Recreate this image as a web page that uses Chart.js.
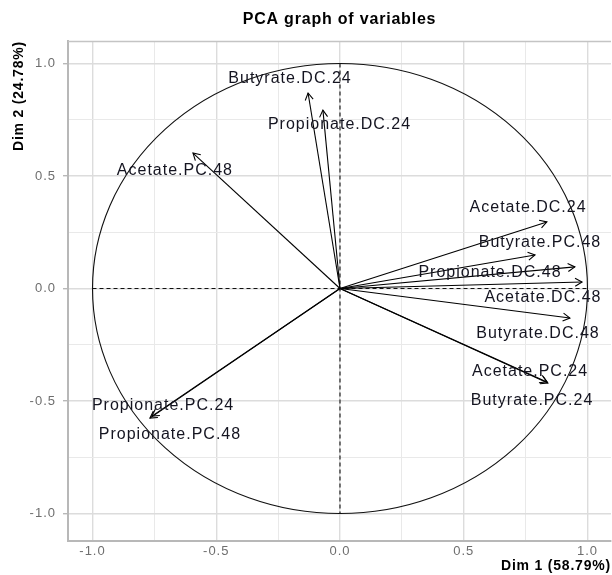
<!DOCTYPE html>
<html>
<head>
<meta charset="utf-8">
<script src="https://cdn.jsdelivr.net/npm/chart.js@4.4.1/dist/chart.umd.min.js"></script>
<style>
  html, body { margin: 0; padding: 0; background: #fff; }
  canvas { display: block; }
</style>
</head>
<body>
<canvas id="pca" width="612" height="575"></canvas>
<script>
// variables (coordonnées sur Dim 1 / Dim 2)
const varNames = [
  'Butyrate.DC.24', 'Propionate.DC.24', 'Acetate.PC.48',
  'Acetate.DC.24', 'Butyrate.PC.48', 'Propionate.DC.48',
  'Acetate.DC.48', 'Butyrate.DC.48', 'Acetate.PC.24',
  'Butyrate.PC.24', 'Propionate.PC.24', 'Propionate.PC.48'
];
const dim1 = [-0.129, -0.069, -0.594, 0.836, 0.788, 0.949, 0.978, 0.929, 0.836, 0.840, -0.768, -0.760];
const dim2 = [0.869, 0.793, 0.602, 0.296, 0.149, 0.096, 0.029, -0.131, -0.415, -0.420, -0.576, -0.567];

// position des étiquettes (décalées comme dans le graphe original)
const labelX = [-0.202, -0.002, -0.667, 0.760, 0.808, 0.606, 0.820, 0.800, 0.768, 0.776, -0.715, -0.687];
const labelY = [0.931, 0.727, 0.522, 0.358, 0.202, 0.073, -0.042, -0.202, -0.367, -0.496, -0.522, -0.651];

// graduations
const gridValues = [-1, -0.75, -0.5, -0.25, 0, 0.25, 0.5, 0.75, 1];

const chartTitle = 'PCA graph of variables';
const xTitle = 'Dim 1 (58.79%)';
const yTitle = 'Dim 2 (24.78%)';

function isMajor(v) {
  return Math.abs(v * 2 - Math.round(v * 2)) < 1e-9;
}

// une flèche = un petit segment origine -> variable
const datasets = varNames.map((name, i) => ({
  label: name,
  data: [{ x: 0, y: 0 }, { x: dim1[i], y: dim2[i] }],
  showLine: true,
  borderColor: '#000',
  borderWidth: 1.1,
  pointRadius: 0,
  fill: false
}));

const pcaDecor = {
  id: 'pcaDecor',
  beforeDraw(chart) {
    chart.ctx.letterSpacing = '1px';
  },
  beforeDatasetsDraw(chart) {
    const { ctx, chartArea, scales: { x, y } } = chart;
    ctx.save();
    // bord du haut
    ctx.strokeStyle = '#c4c4c4';
    ctx.lineWidth = 1.5;
    ctx.beginPath();
    ctx.moveTo(chartArea.left, chartArea.top + 0.5);
    ctx.lineTo(chartArea.right, chartArea.top + 0.5);
    ctx.stroke();

    // cercle des corrélations
    const cx = x.getPixelForValue(0), cy = y.getPixelForValue(0);
    const rx = x.getPixelForValue(1) - cx, ry = cy - y.getPixelForValue(1);
    ctx.strokeStyle = '#111';
    ctx.lineWidth = 1.1;
    ctx.beginPath();
    ctx.ellipse(cx, cy, rx, ry, 0, 0, Math.PI * 2);
    ctx.stroke();

    // axes en pointillés
    ctx.setLineDash([4, 3]);
    ctx.beginPath();
    ctx.moveTo(x.getPixelForValue(-1), cy);
    ctx.lineTo(x.getPixelForValue(1), cy);
    ctx.moveTo(cx, y.getPixelForValue(1));
    ctx.lineTo(cx, y.getPixelForValue(-1));
    ctx.stroke();
    ctx.restore();
  },
  afterDatasetsDraw(chart) {
    const { ctx, chartArea, scales: { x, y } } = chart;
    ctx.save();
    // pointes de flèches
    ctx.strokeStyle = '#000';
    ctx.lineWidth = 1.1;
    chart.data.datasets.forEach((ds, i) => {
      const pts = chart.getDatasetMeta(i).data;
      const x0 = pts[0].x, y0 = pts[0].y, x1 = pts[1].x, y1 = pts[1].y;
      const a = Math.atan2(y1 - y0, x1 - x0);
      const len = 8, spread = Math.PI / 6;
      ctx.beginPath();
      ctx.moveTo(x1 - len * Math.cos(a - spread), y1 - len * Math.sin(a - spread));
      ctx.lineTo(x1, y1);
      ctx.lineTo(x1 - len * Math.cos(a + spread), y1 - len * Math.sin(a + spread));
      ctx.stroke();
    });

    // étiquettes
    ctx.fillStyle = '#141420';
    ctx.font = '16px "Liberation Sans", Arial, sans-serif';
    ctx.letterSpacing = '1px';
    ctx.textAlign = 'center';
    ctx.textBaseline = 'middle';
    varNames.forEach((name, i) => {
      ctx.fillText(name, x.getPixelForValue(labelX[i]), y.getPixelForValue(labelY[i]));
    });

    // titre
    ctx.fillStyle = '#000';
    ctx.font = 'bold 16px "Liberation Sans", Arial, sans-serif';
    ctx.letterSpacing = '0.8px';
    ctx.fillText(chartTitle, (chartArea.left + chartArea.right) / 2, 20);

    // titres des axes
    ctx.font = 'bold 14px "Liberation Sans", Arial, sans-serif';
    ctx.letterSpacing = '0.8px';
    ctx.textAlign = 'right';
    ctx.fillText(xTitle, chartArea.right, 566);
    ctx.translate(19, chartArea.top);
    ctx.rotate(-Math.PI / 2);
    ctx.textAlign = 'right';
    ctx.fillText(yTitle, 0, 0);
    ctx.restore();
  }
};

const gridColor = c => isMajor(c.tick.value) ? '#dcdcdc' : '#e9e9e9';
const gridWidth = c => isMajor(c.tick.value) ? 1.4 : 1;
const tickLabel = v => isMajor(v) ? v.toFixed(1) : '';

new Chart(document.getElementById('pca'), {
  type: 'scatter',
  data: { datasets: datasets },
  plugins: [pcaDecor],
  options: {
    responsive: false,
    animation: false,
    layout: { padding: { top: 41, right: 1, left: 0, bottom: 0 } },
    plugins: { legend: { display: false }, tooltip: { enabled: false } },
    scales: {
      x: {
        type: 'linear',
        min: -1.099,
        max: 1.095,
        afterBuildTicks: s => { s.ticks = gridValues.map(v => ({ value: v })); },
        afterFit: s => { s.height = 34; },
        grid: { color: gridColor, lineWidth: gridWidth, drawTicks: false },
        border: { color: '#b8b8b8', width: 2 },
        ticks: {
          callback: tickLabel,
          autoSkip: false,
          maxRotation: 0,
          padding: 3,
          color: '#6e6e6e',
          font: { family: '"Liberation Sans", Arial, sans-serif', size: 13 }
        }
      },
      y: {
        type: 'linear',
        min: -1.122,
        max: 1.100,
        afterBuildTicks: s => { s.ticks = gridValues.map(v => ({ value: v })); },
        afterFit: s => { s.width = 68; },
        grid: {
          color: gridColor,
          lineWidth: gridWidth,
          tickLength: 5,
          tickColor: c => isMajor(c.tick.value) ? '#b8b8b8' : 'rgba(0,0,0,0)'
        },
        border: { color: '#b8b8b8', width: 2 },
        ticks: {
          callback: tickLabel,
          autoSkip: false,
          padding: 7,
          color: '#6e6e6e',
          font: { family: '"Liberation Sans", Arial, sans-serif', size: 13 }
        }
      }
    }
  }
});
</script>
</body>
</html>
